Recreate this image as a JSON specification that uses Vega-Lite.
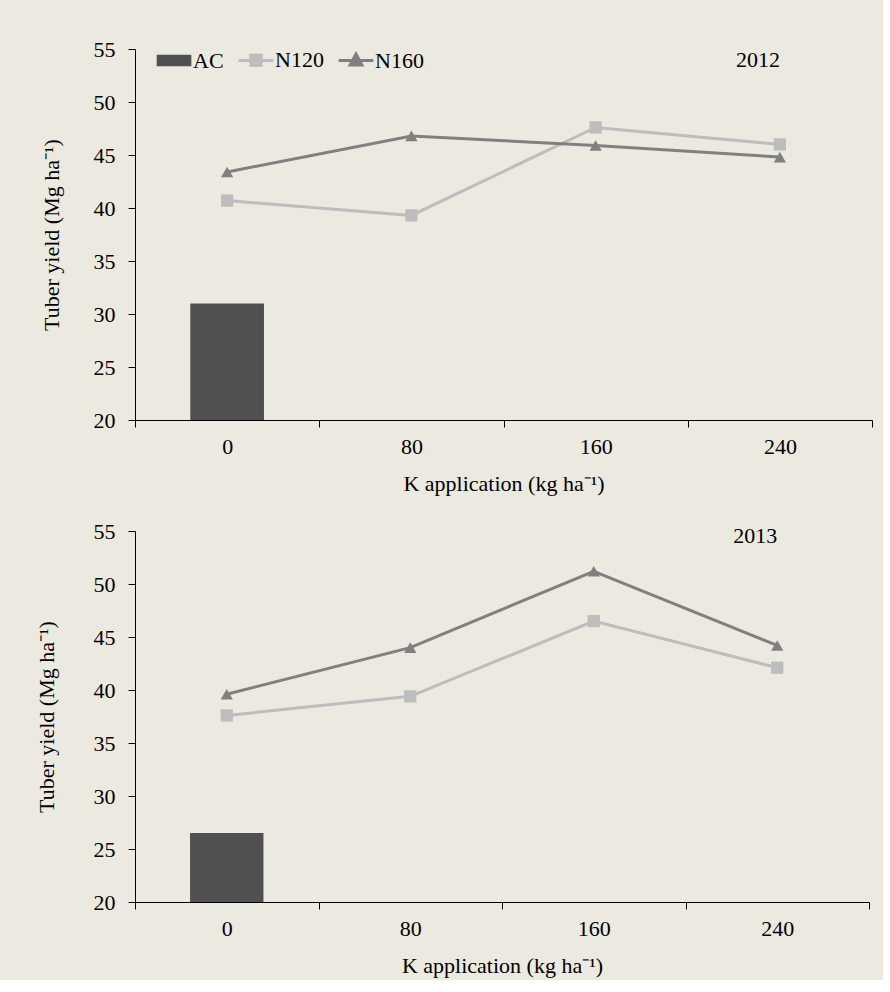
{
  "$schema": "https://vega.github.io/schema/vega-lite/v6.json",
  "background": "#ECE9E0",
  "padding": {"left": 35, "top": 38, "right": 10, "bottom": 4},
  "config": {
    "font": "Liberation Serif",
    "view": {"stroke": null},
    "axis": {
      "labelFont": "Liberation Serif",
      "titleFont": "Liberation Serif",
      "labelFontSize": 22,
      "titleFontSize": 22,
      "titleFontWeight": "normal",
      "labelColor": "#000000",
      "titleColor": "#000000",
      "domainColor": "#000000",
      "tickColor": "#000000",
      "domainWidth": 1,
      "tickWidth": 1,
      "tickSize": 7,
      "grid": false
    }
  },
  "datasets": {
    "yield": [
      {"year": 2012, "series": "AC", "K": "0", "value": 31.0},
      {"year": 2012, "series": "N120", "K": "0", "value": 40.7},
      {"year": 2012, "series": "N120", "K": "80", "value": 39.3},
      {"year": 2012, "series": "N120", "K": "160", "value": 47.6},
      {"year": 2012, "series": "N120", "K": "240", "value": 46.0},
      {"year": 2012, "series": "N160", "K": "0", "value": 43.4},
      {"year": 2012, "series": "N160", "K": "80", "value": 46.8},
      {"year": 2012, "series": "N160", "K": "160", "value": 45.9},
      {"year": 2012, "series": "N160", "K": "240", "value": 44.8},
      {"year": 2013, "series": "AC", "K": "0", "value": 26.5},
      {"year": 2013, "series": "N120", "K": "0", "value": 37.6},
      {"year": 2013, "series": "N120", "K": "80", "value": 39.4},
      {"year": 2013, "series": "N120", "K": "160", "value": 46.5},
      {"year": 2013, "series": "N120", "K": "240", "value": 42.1},
      {"year": 2013, "series": "N160", "K": "0", "value": 39.6},
      {"year": 2013, "series": "N160", "K": "80", "value": 44.0},
      {"year": 2013, "series": "N160", "K": "160", "value": 51.2},
      {"year": 2013, "series": "N160", "K": "240", "value": 44.2}
    ]
  },
  "spacing": 26,
  "align": "none",
  "resolve": {"scale": {"color": "independent", "shape": "independent"}},
  "vconcat": [
    {
      "width": 737,
      "height": 371,
      "data": {"name": "yield"},
      "transform": [{"filter": "datum.year === 2012"}],
      "encoding": {
        "x": {
          "field": "K", "type": "ordinal", "sort": ["0", "80", "160", "240"],
          "scale": {"paddingInner": 0, "paddingOuter": 0},
          "axis": {"title": "K application (kg ha⁻¹)", "labelAngle": 0, "tickBand": "extent", "labelPadding": 9, "titlePadding": 16}
        },
        "y": {
          "field": "value", "type": "quantitative",
          "scale": {"domain": [20, 55], "zero": false, "nice": false},
          "axis": {"title": "Tuber yield (Mg ha⁻¹)", "values": [20, 25, 30, 35, 40, 45, 50, 55], "labelPadding": 13, "titlePadding": 30}
        }
      },
      "layer": [
        {
          "transform": [{"filter": "datum.series === 'AC'"}],
          "mark": {"type": "bar", "width": {"band": 0.4}},
          "encoding": {
            "y2": {"datum": 20},
            "color": {
              "field": "series", "type": "nominal",
              "scale": {"domain": ["AC", "N120", "N160"], "range": ["#505050", "#BDBDBD", "#808080"]},
              "legend": {
                "title": null, "orient": "none", "legendX": 28, "legendY": 0,
                "direction": "horizontal", "symbolSize": 1200, "symbolStrokeWidth": 3,
                "labelFont": "Liberation Serif", "labelFontSize": 22, "labelColor": "#000000",
                "labelOffset": 8, "columnPadding": 8,
                "encode": {
                  "symbols": {
                    "update": {
                      "shape": {"signal": "datum.value === 'AC' ? 'M-1,-0.33H1V0.33H-1Z' : datum.value === 'N120' ? 'M-1,0H1M-0.3,-0.3H0.3V0.3H-0.3Z' : 'M-1,0H1M0,-0.38L0.34,0.26H-0.34Z'"},
                      "fill": {"signal": "datum.value === 'AC' ? '#505050' : datum.value === 'N120' ? '#BDBDBD' : '#808080'"},
                      "stroke": {"signal": "datum.value === 'AC' ? '#505050' : datum.value === 'N120' ? '#BDBDBD' : '#808080'"},
                      "strokeWidth": {"signal": "datum.value === 'AC' ? 0 : 3"},
                      "opacity": {"value": 1},
                      "fillOpacity": {"value": 1},
                      "strokeOpacity": {"value": 1}
                    }
                  }
                }
              }
            }
          }
        },
        {
          "transform": [{"filter": "datum.series !== 'AC'"}],
          "mark": {"type": "line", "strokeWidth": 3},
          "encoding": {
            "color": {"field": "series", "type": "nominal"}
          }
        },
        {
          "transform": [{"filter": "datum.series !== 'AC'"}],
          "mark": {"type": "point", "filled": true, "opacity": 1, "size": 150},
          "encoding": {
            "color": {"field": "series", "type": "nominal"},
            "shape": {"field": "series", "type": "nominal", "scale": {"domain": ["N120", "N160"], "range": ["square", "triangle-up"]}, "legend": null}
          }
        },
        {
          "transform": [{"filter": "datum.series === 'AC'"}],
          "mark": {"type": "text", "align": "right", "baseline": "middle", "fontSize": 22, "font": "Liberation Serif", "color": "#000000"},
          "encoding": {
            "x": {"datum": "240"},
            "y": {"datum": 54},
            "text": {"field": "year", "type": "nominal"}
          }
        }
      ]
    },
    {
      "width": 734,
      "height": 371,
      "data": {"name": "yield"},
      "transform": [{"filter": "datum.year === 2013"}],
      "encoding": {
        "x": {
          "field": "K", "type": "ordinal", "sort": ["0", "80", "160", "240"],
          "scale": {"paddingInner": 0, "paddingOuter": 0},
          "axis": {"title": "K application (kg ha⁻¹)", "labelAngle": 0, "tickBand": "extent", "labelPadding": 9, "titlePadding": 16}
        },
        "y": {
          "field": "value", "type": "quantitative",
          "scale": {"domain": [20, 55], "zero": false, "nice": false},
          "axis": {"title": "Tuber yield (Mg ha⁻¹)", "values": [20, 25, 30, 35, 40, 45, 50, 55], "labelPadding": 13, "titlePadding": 35}
        }
      },
      "layer": [
        {
          "transform": [{"filter": "datum.series === 'AC'"}],
          "mark": {"type": "bar", "width": {"band": 0.4}},
          "encoding": {
            "y2": {"datum": 20},
            "color": {
              "field": "series", "type": "nominal",
              "scale": {"domain": ["AC", "N120", "N160"], "range": ["#505050", "#BDBDBD", "#808080"]},
              "legend": null
            }
          }
        },
        {
          "transform": [{"filter": "datum.series !== 'AC'"}],
          "mark": {"type": "line", "strokeWidth": 3},
          "encoding": {
            "color": {"field": "series", "type": "nominal", "legend": null}
          }
        },
        {
          "transform": [{"filter": "datum.series !== 'AC'"}],
          "mark": {"type": "point", "filled": true, "opacity": 1, "size": 150},
          "encoding": {
            "color": {"field": "series", "type": "nominal", "legend": null},
            "shape": {"field": "series", "type": "nominal", "scale": {"domain": ["N120", "N160"], "range": ["square", "triangle-up"]}, "legend": null}
          }
        },
        {
          "transform": [{"filter": "datum.series === 'AC'"}],
          "mark": {"type": "text", "align": "right", "baseline": "middle", "fontSize": 22, "font": "Liberation Serif", "color": "#000000"},
          "encoding": {
            "x": {"datum": "240"},
            "y": {"datum": 54.5},
            "text": {"field": "year", "type": "nominal"}
          }
        }
      ]
    }
  ]
}
